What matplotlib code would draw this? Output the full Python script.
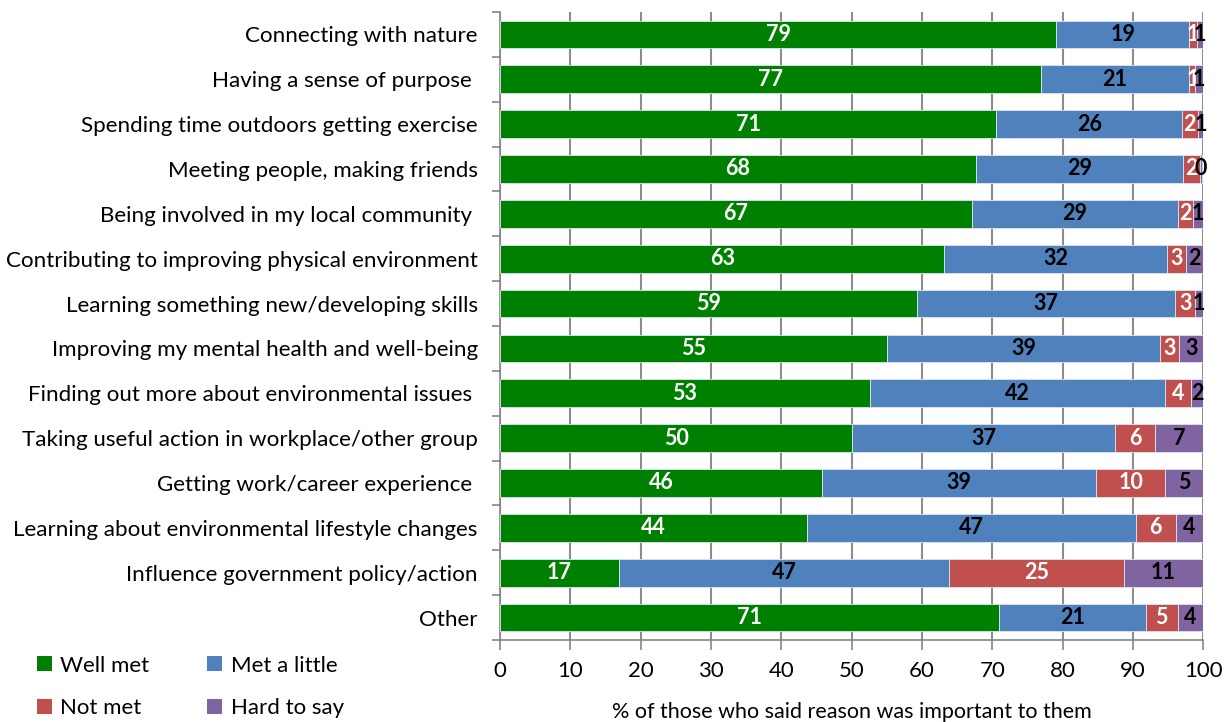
import numpy as np
import matplotlib.pyplot as plt
from matplotlib.patches import Patch

categories = [
    'Connecting with nature',
    'Having a sense of purpose ',
    'Spending time outdoors getting exercise',
    'Meeting people, making friends',
    'Being involved in my local community ',
    'Contributing to improving physical environment',
    'Learning something new/developing skills',
    'Improving my mental health and well-being',
    'Finding out more about environmental issues ',
    'Taking useful action in workplace/other group',
    'Getting work/career experience ',
    'Learning about environmental lifestyle changes',
    'Influence government policy/action',
    'Other',
]

well_met = [79.1, 76.9, 70.6, 67.7, 67.1, 63.2, 59.3, 55.1, 52.6, 50.1, 45.8, 43.6, 16.9, 71.0]
met_little = [18.95, 21.15, 26.4, 29.4, 29.3, 31.6, 36.7, 38.8, 42.0, 37.4, 39.0, 46.8, 47.0, 20.8]
not_met = [1.05, 0.85, 2.2, 2.4, 2.2, 2.8, 2.9, 2.7, 3.7, 5.6, 9.8, 5.7, 24.8, 4.6]
hard_to_say = [0.9, 1.1, 0.8, 0.4, 1.4, 2.4, 1.1, 3.4, 1.7, 6.9, 5.4, 3.9, 11.3, 3.6]

series = [
    ('Well met', well_met, '#008000', 'white'),
    ('Met a little', met_little, '#4f81bd', 'black'),
    ('Not met', not_met, '#c0504d', 'white'),
    ('Hard to say', hard_to_say, '#8064a2', 'black'),
]

plt.rcParams['font.family'] = ['Lato', 'DejaVu Sans']

fig = plt.figure(figsize=(12.24, 7.22), dpi=100)
ax = fig.add_axes([0.4085, 0.1136, 0.5745, 0.8698])

y = np.arange(len(categories))
left = np.zeros(len(categories))
for name, vals, col, tcol in series:
    vals = np.array(vals)
    ax.barh(y, vals, left=left, height=0.62, color=col, edgecolor='#dce6f2',
            linewidth=0.6, zorder=3)
    for yi, l, v in zip(y, left, vals):
        ax.text(l + v / 2, yi, f'{v:.0f}', ha='center', va='center',
                color=tcol, fontsize=15.5, fontweight='bold', zorder=4)
    left = left + vals

ax.set_xlim(0, 100)
ax.set_ylim(len(categories) - 0.5, -0.5)
ax.set_xticks(np.arange(0, 101, 10))
ax.set_yticks(y)
ax.set_yticklabels(categories, fontsize=16.1)
ax.set_yticks(np.arange(-0.5, len(categories), 1), minor=True)
ax.tick_params(axis='y', which='major', length=0, pad=16)
ax.tick_params(axis='y', which='minor', length=6, color='#868686', width=1.2, direction='out')
ax.tick_params(axis='x', length=7, color='#868686', width=1.2, labelsize=16, pad=8)
ax.xaxis.grid(True, color='#8c8c8c', linewidth=1.5, zorder=0)
ax.set_axisbelow(True)
for s in ['top', 'right']:
    ax.spines[s].set_visible(False)
for s in ['left', 'bottom']:
    ax.spines[s].set_color('#868686')
    ax.spines[s].set_linewidth(1.2)
ax.set_xlabel('% of those who said reason was important to them', fontsize=15.5, labelpad=15)

# legend filled column-wise, so order handles to read row-wise
handles = {n: Patch(facecolor=c, label=n) for n, _, c, _ in series}
order = ['Well met', 'Not met', 'Met a little', 'Hard to say']
fig.legend(handles=[handles[n] for n in order], loc='upper left',
           bbox_to_anchor=(0.014, 0.1195), ncol=2,
           frameon=False, fontsize=16, handlelength=0.65, handleheight=0.65,
           handletextpad=0.4, columnspacing=2.6, labelspacing=1.0)

fig.savefig('out.png', dpi=100)
